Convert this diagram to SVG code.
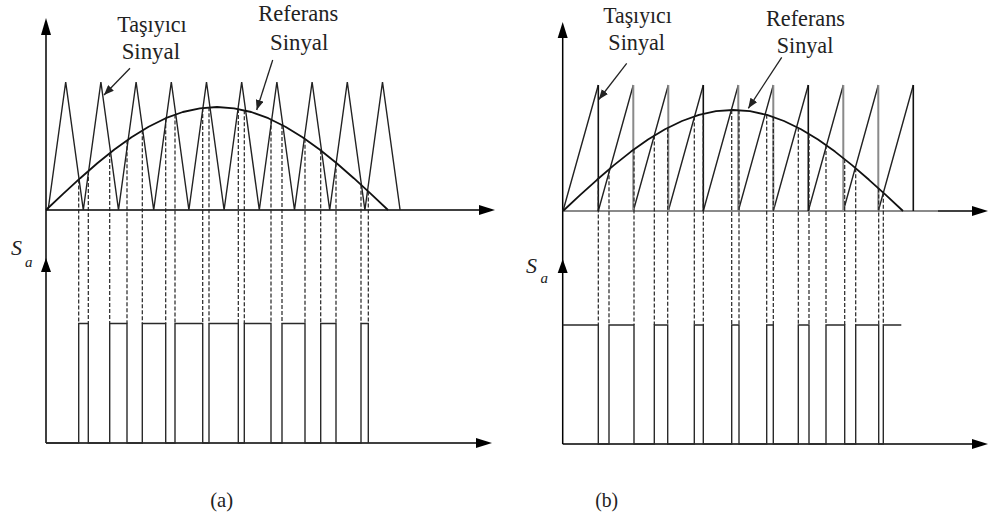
<svg xmlns="http://www.w3.org/2000/svg" width="990" height="521" viewBox="0 0 990 521">
<style>
.ax{stroke:#000;stroke-width:1.5;fill:none}
.ah{fill:#000;stroke:none}
.car{stroke:#222;stroke-width:1.4;fill:none;stroke-linejoin:miter}
.ref{stroke:#111;stroke-width:1.8;fill:none;stroke-linejoin:round}
.dash{stroke:#222;stroke-width:1.2;stroke-dasharray:4 2;fill:none}
.pul{stroke:#2a2a2a;stroke-width:1.4;fill:none}
.la{stroke:#222;stroke-width:1.3;fill:none}
text{fill:#222}
</style>
<defs>
<marker id="tip" viewBox="0 0 10 8" refX="10" refY="4" markerWidth="10" markerHeight="8" markerUnits="userSpaceOnUse" orient="auto">
<path d="M0,0 L10,4 L0,8 Z" fill="#222"/>
</marker>
</defs>

<!-- ===== Panel (a) ===== -->
<g id="axes-a">
<line class="ax" x1="46" y1="30" x2="46" y2="443"/>
<polygon class="ah" points="46,18 41,35 51,35"/>
<line class="ax" x1="46" y1="210" x2="482" y2="210"/>
<polygon class="ah" points="495,210 479,205 479,215"/>
<polygon class="ah" points="46,258 41,272 51,272"/>
<line class="ax" x1="46" y1="443" x2="478" y2="443"/>
<polygon class="ah" points="492,443 476,438 476,448"/>
</g>
<g id="carrier-a">
<polyline class="car" points="48.1,210 65.7,82 83.3,210 100.9,82 118.5,210 136.1,82 153.7,210 171.3,82 188.9,210 206.5,82 224.1,210 241.7,82 259.3,210 276.9,82 294.5,210 312.1,82 329.7,210 347.3,82 364.9,210 382.5,82 400.1,210"/>
</g>
<g id="reference-a">
<polyline class="ref" points="46,210 63.1,193.9 80.2,178.2 97.3,163.2 114.4,149.5 131.5,137.2 148.6,126.7 165.7,118.2 182.8,112 199.9,108.3 217,107 234.1,108.3 251.2,112 268.3,118.2 285.4,126.7 302.5,137.2 319.6,149.5 336.7,163.2 353.8,178.2 370.9,193.9 388,210"/>
</g>
<g id="dashes-a">
<path class="dash" d="M78.7,179.5V323.5 M88.3,171V323.5 M109.7,153.1V323.5 M127,140.2V323.5 M142.3,130.3V323.5 M165.7,118.2V323.5 M175,114.6V323.5 M202.7,107.9V323.5 M209,107.3V323.5 M238.3,109V323.5 M244.3,110.2V323.5 M271,119.4V323.5 M282,124.9V323.5 M305,138.8V323.5 M320.7,150.2V323.5 M336,162.7V323.5 M361,184.7V323.5 M368.3,191.5V323.5"/>
</g>
<g id="pulses-a">
<path class="pul" d="M46,443 H78.7 V323.5 H88.3 V443 H109.7 V323.5 H127 V443 H142.3 V323.5 H165.7 V443 H175 V323.5 H202.7 V443 H209 V323.5 H238.3 V443 H244.3 V323.5 H271 V443 H282 V323.5 H305 V443 H320.7 V323.5 H336 V443 H361 V323.5 H368.3 V443"/>
</g>
<g id="label-carrier-a" font-family="Liberation Serif, DejaVu Serif, serif" font-size="24">
<text x="117.3" y="31.5" textLength="69.4" lengthAdjust="spacingAndGlyphs">Taşıyıcı</text>
<text x="121.7" y="59" textLength="58.3" lengthAdjust="spacingAndGlyphs">Sinyal</text>
</g>
<g id="label-reference-a" font-family="Liberation Serif, DejaVu Serif, serif" font-size="24">
<text x="258.3" y="20.7" textLength="80" lengthAdjust="spacingAndGlyphs">Referans</text>
<text x="270" y="50" textLength="58.3" lengthAdjust="spacingAndGlyphs">Sinyal</text>
</g>
<g id="label-sa-a" font-family="Liberation Serif, DejaVu Serif, serif" font-style="italic">
<text x="11" y="255" font-size="22">S</text>
<text x="25" y="266.7" font-size="15">a</text>
</g>
<g id="caption-a" font-family="Liberation Serif, DejaVu Serif, serif" font-size="21">
<text x="221.7" y="506.5" text-anchor="middle" textLength="23" lengthAdjust="spacingAndGlyphs">(a)</text>
</g>

<!-- ===== Panel (b) ===== -->
<g id="axes-b">
<line class="ax" x1="562.7" y1="34" x2="562.7" y2="444"/>
<polygon class="ah" points="562.7,22 557.7,38 567.7,38"/>
<line x1="563" y1="211" x2="938" y2="211" stroke="#8a8a8a" stroke-width="2"/>
<line class="ax" x1="938" y1="211" x2="975" y2="211"/>
<polygon class="ah" points="988,211 972,206 972,216"/>
<polygon class="ah" points="562.7,259 557.7,273 567.7,273"/>
<line class="ax" x1="562.7" y1="444" x2="975" y2="444"/>
<polygon class="ah" points="988,444 972,439 972,449"/>
</g>
<g id="carrier-b">
<path class="car" d="M563,211 L598.3,85 M598.3,211 L633.3,85 M633.3,211 L668.3,85 M668.3,211 L703.3,85 M703.3,211 L738.3,85 M738.3,211 L773.3,85 M773.3,211 L808.3,85 M808.3,211 L843.3,85 M843.3,211 L878.3,85 M878.3,211 L913.3,85"/>
<path d="M598.3,85V211 M703.3,85V211 M808.3,85V211 M913.3,85V211" stroke="#111" stroke-width="1.6" fill="none"/>
<path d="M633.3,85V211 M668.3,85V211 M738.3,85V211 M773.3,85V211 M843.3,85V211 M878.3,85V211" stroke="#8a8a8a" stroke-width="2" fill="none"/>
</g>
<g id="reference-b">
<polyline class="ref" points="563,211 580,195.2 597,179.8 614,165.1 631,151.6 648,139.6 665,129.3 682,121 699,114.9 716,111.2 733,110 750,111.2 767,114.9 784,121 801,129.3 818,139.6 835,151.6 852,165.1 869,179.8 886,195.2 903,211"/>
</g>
<g id="dashes-b">
<path class="dash" d="M598.3,178.6V325 M609,169.3V325 M634,149.4V325 M654.3,135.6V325 M667.7,127.8V325 M694.3,116.4V325 M703.3,113.8V325 M731.7,110V325 M739,110.2V325 M766.7,114.8V325 M773.3,117V325 M798.3,127.8V325 M809,133.9V325 M826,144.9V325 M844.7,159.1V325 M855.7,168.2V325 M878.7,188.5V325 M883.3,192.7V325"/>
</g>
<g id="pulses-b">
<path class="pul" d="M562.7,325 H598.3 V444 H609 V325 H634 V444 H654.3 V325 H667.7 V444 H694.3 V325 H703.3 V444 H731.7 V325 H739 V444 H766.7 V325 H773.3 V444 H798.3 V325 H809 V444 H826 V325 H844.7 V444 H855.7 V325 H878.7 V444 H883.3 V325 H901.3"/>
</g>
<g id="label-carrier-b" font-family="Liberation Serif, DejaVu Serif, serif" font-size="24">
<text x="603.3" y="22.7" textLength="68.4" lengthAdjust="spacingAndGlyphs">Taşıyıcı</text>
<text x="608.3" y="50" textLength="56.7" lengthAdjust="spacingAndGlyphs">Sinyal</text>
</g>
<g id="label-reference-b" font-family="Liberation Serif, DejaVu Serif, serif" font-size="24">
<text x="766" y="26" textLength="79" lengthAdjust="spacingAndGlyphs">Referans</text>
<text x="776.7" y="53.3" textLength="56.6" lengthAdjust="spacingAndGlyphs">Sinyal</text>
</g>
<g id="label-sa-b" font-family="Liberation Serif, DejaVu Serif, serif" font-style="italic">
<text x="526" y="273.3" font-size="22">S</text>
<text x="540.5" y="283.3" font-size="15">a</text>
</g>
<g id="caption-b" font-family="Liberation Serif, DejaVu Serif, serif" font-size="21">
<text x="606.7" y="506.5" text-anchor="middle" textLength="23" lengthAdjust="spacingAndGlyphs">(b)</text>
</g>

<!-- ===== Label pointers ===== -->
<g id="connectors">
<line class="la" x1="130" y1="68.3" x2="104" y2="95" marker-end="url(#tip)"/>
<line class="la" x1="272.7" y1="60" x2="256.7" y2="110" marker-end="url(#tip)"/>
<line class="la" x1="626.7" y1="63.3" x2="598.8" y2="99.5" marker-end="url(#tip)"/>
<line class="la" x1="781.7" y1="57.3" x2="748.3" y2="108.3" marker-end="url(#tip)"/>
</g>
</svg>
